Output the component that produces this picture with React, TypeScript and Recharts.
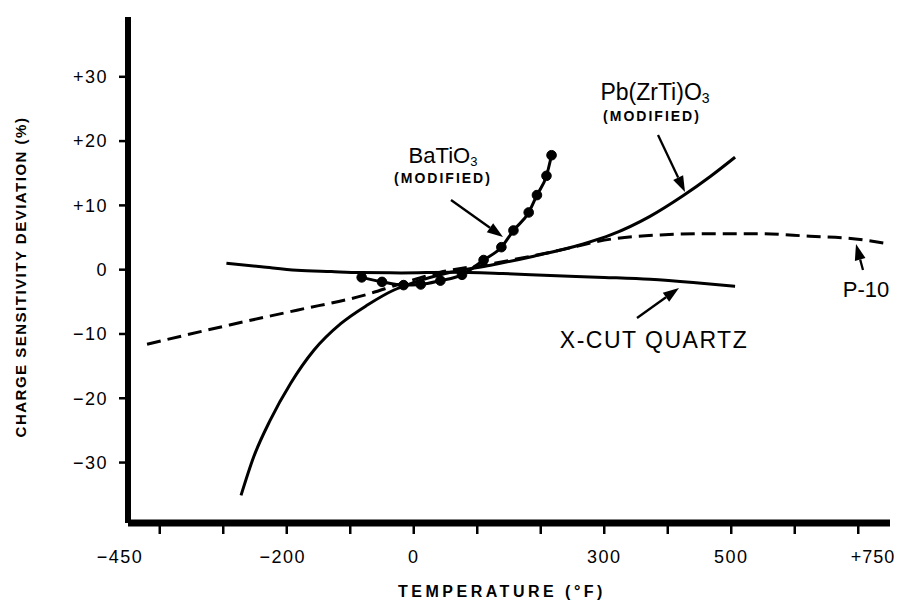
import React from "react";
import { LineChart, Line, XAxis, YAxis } from "recharts";

const FONT = '"Liberation Sans", Arial, Helvetica, sans-serif';

// temperature axis (°F)
const xTicks = [-450, -400, -300, -200, -100, 0, 100, 200, 300, 400, 500, 600, 700, 750];
const xLabelValues = [-450, -200, 0, 300, 500, 750];
const xLabelText = ["−450", "−200", "0", "300", "500", "+750"];

// deviation axis (%)
const yTicks = [-30, -20, -10, 0, 10, 20, 30];
const yTickText = ["−30", "−20", "−10", "0", "+10", "+20", "+30"];

// X-cut quartz
const quartzT = [-295, -240, -184, -130, -84, -20, 58, 140, 215, 300, 372, 440, 506];
const quartzY = [1.0, 0.45, -0.1, -0.3, -0.45, -0.5, -0.4, -0.6, -0.9, -1.2, -1.5, -2.0, -2.6];

// P-10 (dashed)
const p10T = [-420, -290, -184, -79, -21, 42, 121, 215, 314, 388, 467, 546, 624, 683, 750];
const p10Y = [-11.6, -8.6, -6.3, -4.0, -2.2, -0.4, 0.9, 2.7, 4.8, 5.4, 5.6, 5.6, 5.2, 4.9, 4.0];

// Pb(ZrTi)O3 modified
const pbT = [-272, -252, -226, -194, -157, -115, -73, -32, 0, 58, 121, 189, 267, 310, 372, 424, 467, 506];
const pbY = [-35.1, -29.1, -23.4, -17.7, -12.5, -8.4, -5.5, -3.2, -2.0, -0.4, 0.7, 2.1, 4.0, 5.4, 8.3, 11.5, 14.5, 17.5];

// BaTiO3 modified (measured points)
const baT = [-82, -50, -16, 11, 42, 76, 110, 138, 157, 181, 194, 209, 217];
const baY = [-1.2, -1.9, -2.4, -2.3, -1.7, -0.8, 1.5, 3.5, 6.1, 8.9, 11.6, 14.6, 17.8];

const toRows = (ts: number[], vs: number[]) => ts.map((t, i) => ({ t, v: vs[i] }));

const quartz = toRows(quartzT, quartzY);
const p10 = toRows(p10T, p10Y);
const pb = toRows(pbT, pbY);
const ba = toRows(baT, baY);

function XTick(props: any) {
  const { x, y, payload } = props;
  const v = payload.value;
  const i = xLabelValues.indexOf(v);
  const mark = v > -450 && v < 750;
  const shift = v === -450 ? -8 : v === 750 ? -17 : v < 0 ? -4 : 0;
  return (
    <g>
      {mark && <line x1={x} x2={x} y1={y} y2={y + 11} stroke="#000" strokeWidth={2.5} />}
      {i >= 0 && (
        <text x={x + shift} y={y + 40} textAnchor="middle" fontSize={18} letterSpacing={v === 750 ? 1 : 1.5} fill="#000" fontFamily={FONT}>
          {xLabelText[i]}
        </text>
      )}
    </g>
  );
}

function Arrow({ x1, y1, x2, y2 }: { x1: number; y1: number; x2: number; y2: number }) {
  const a = Math.atan2(y2 - y1, x2 - x1);
  const L = 16;
  const W = 5.5;
  const bx = x2 - L * Math.cos(a);
  const by = y2 - L * Math.sin(a);
  const pts = `${x2},${y2} ${bx + W * Math.sin(a)},${by - W * Math.cos(a)} ${bx - W * Math.sin(a)},${by + W * Math.cos(a)}`;
  return (
    <g>
      <line x1={x1} y1={y1} x2={bx} y2={by} stroke="#000" strokeWidth={2.3} />
      <polygon points={pts} fill="#000" />
    </g>
  );
}

export default function App() {
  return (
    <div style={{ position: "relative", width: 897, height: 598, fontFamily: FONT }}>
      <LineChart width={897} height={598} margin={{ top: 9, right: 15, bottom: 0, left: 0 }}>
        <XAxis
          type="number"
          dataKey="t"
          domain={[-450, 750]}
          ticks={xTicks}
          interval={0}
          allowDataOverflow
          tick={<XTick />}
          tickLine={false}
          tickSize={0}
          tickMargin={0}
          axisLine={{ stroke: "#000", strokeWidth: 7 }}
          height={83}
        />
        <YAxis
          type="number"
          domain={[-39.4, 39.3]}
          ticks={yTicks}
          interval={0}
          allowDataOverflow
          width={120}
          tickSize={9}
          tickMargin={11}
          tickLine={{ stroke: "#000", strokeWidth: 2.5 }}
          axisLine={{ stroke: "#000", strokeWidth: 6 }}
          tick={{ fill: "#000", fontSize: 18, letterSpacing: 1.5, fontFamily: FONT }}
          tickFormatter={(v: number) => yTickText[yTicks.indexOf(v)]}
        />
        <Line data={p10} dataKey="v" type="monotone" stroke="#000" strokeWidth={3} strokeDasharray="14 7" dot={false} isAnimationActive={false} />
        <Line data={quartz} dataKey="v" type="monotone" stroke="#000" strokeWidth={3} dot={false} isAnimationActive={false} />
        <Line data={pb} dataKey="v" type="monotone" stroke="#000" strokeWidth={3} dot={false} isAnimationActive={false} />
        <Line
          data={ba}
          dataKey="v"
          type="monotone"
          stroke="#000"
          strokeWidth={3}
          dot={{ r: 4.8, fill: "#000", stroke: "#000", strokeWidth: 1 }}
          isAnimationActive={false}
        />
      </LineChart>
      <svg width={897} height={598} style={{ position: "absolute", left: 0, top: 0, pointerEvents: "none" }}>
        <g fill="#000" fontFamily={FONT}>
          <text x={435} y={155} fontSize={22} textAnchor="middle">
            BaTiO<tspan fontSize={13} dy={3}>3</tspan>
          </text>
          <text x={435} y={175} fontSize={14} fontWeight="bold" letterSpacing={2} textAnchor="middle">(MODIFIED)</text>
          <text x={647} y={92} fontSize={23} textAnchor="middle">
            Pb(ZrTi)O<tspan fontSize={14} dy={3}>3</tspan>
          </text>
          <text x={644} y={113} fontSize={14} fontWeight="bold" letterSpacing={2} textAnchor="middle">(MODIFIED)</text>
          <text x={646} y={340} fontSize={23} letterSpacing={1.5} textAnchor="middle">X-CUT  QUARTZ</text>
          <text x={858} y={289} fontSize={22} textAnchor="middle">P-10</text>
          <text
            x={12}
            y={269}
            fontSize={15}
            fontWeight="bold"
            letterSpacing={1.5}
            textAnchor="middle"
            dominantBaseline="central"
            transform="rotate(-90, 12, 269)"
          >
            CHARGE SENSITIVITY DEVIATION (%)
          </text>
          <text x={494} y={589} fontSize={16} fontWeight="bold" letterSpacing={3.5} textAnchor="middle">TEMPERATURE (°F)</text>
        </g>
        <Arrow x1={443} y1={192} x2={495} y2={229} />
        <Arrow x1={650} y1={127} x2={677} y2={184} />
        <Arrow x1={629} y1={310} x2={671} y2={280} />
        <Arrow x1={855} y1={262} x2={848} y2={236} />
      </svg>
    </div>
  );
}
